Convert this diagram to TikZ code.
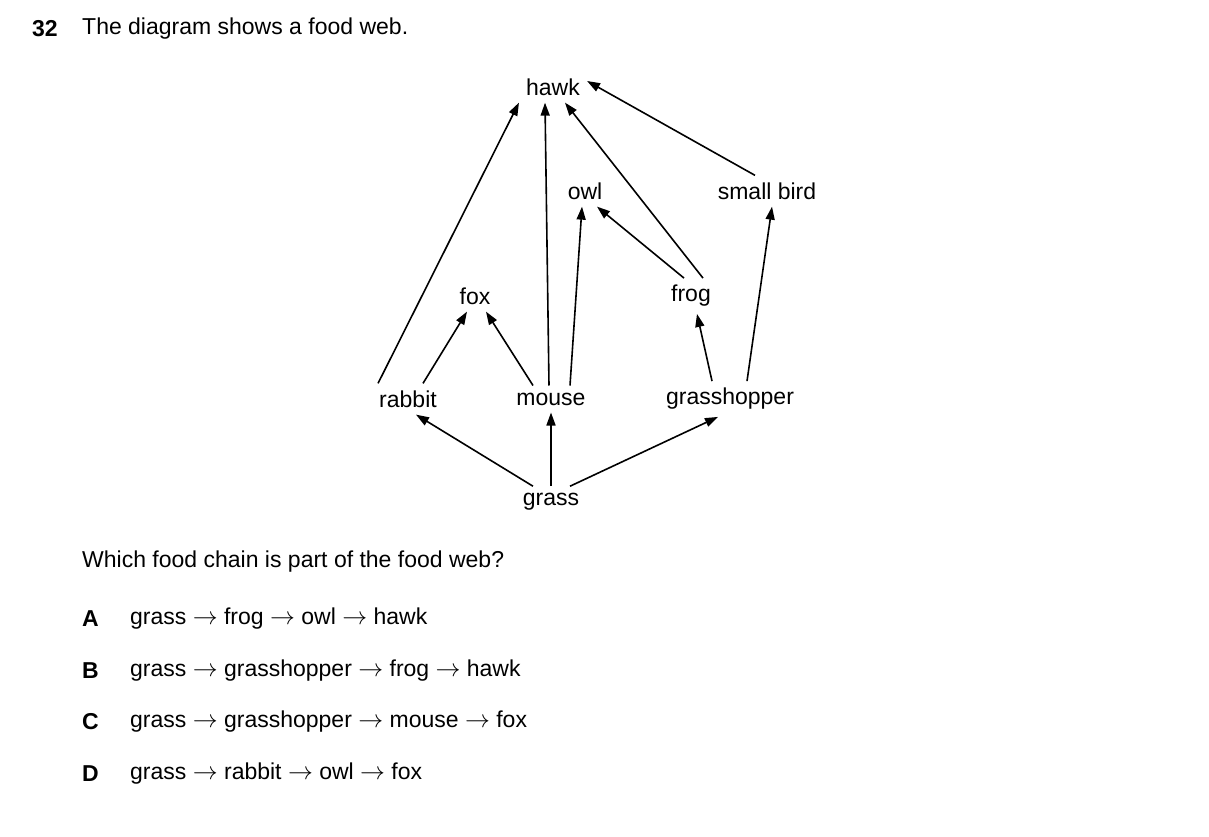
\documentclass[tikz,border=0pt]{standalone}
\usepackage{fontspec}
\setmainfont{Liberation Sans}
\usetikzlibrary{arrows.meta}
\begin{document}
\begin{tikzpicture}[x=1pt,y=-1pt,
  every node/.style={font=\fontsize{23}{28}\selectfont},
  sp/.style={inner sep=7pt},
  ar/.style={line width=1.6pt,-{Triangle[length=13pt,width=9pt]}},
  txt/.style={anchor=west,inner sep=0pt}]
\useasboundingbox (0,0) rectangle (1209,837);
\node[txt,font=\fontsize{23}{28}\selectfont\bfseries] (num) at (32,29) {32};
\node[txt] (title) at (82,29) {The diagram shows a food web.};
\node[sp] (hawk) at (553,87) {hawk};
\node[sp] (owl) at (585,191) {owl};
\node[sp] (bird) at (767,191) {small bird};
\node[sp] (fox) at (475,296) {fox};
\node[sp] (frog) at (691,296) {frog};
\node[sp] (rabbit) at (408,399) {rabbit};
\node[sp] (mouse) at (551,399) {mouse};
\node[sp] (hop) at (730,399) {grasshopper};
\node[sp] (grass) at (551,502) {grass};
\draw[ar] (rabbit.north west) ++(6,0) coordinate (r1) -- (hawk.south west);
\draw[ar] (mouse.north) ++(-2,0) coordinate (m1) -- ([xshift=-8pt]hawk.south);
\draw[ar] (frog.north) ++(12,0) coordinate (f1) -- ([xshift=12pt]hawk.south);
\draw[ar] (bird.north) ++(-12,0) coordinate (b1) -- ([yshift=6pt]hawk.east);
\draw[ar] (mouse.north) ++(19,0) coordinate (m2) -- ([xshift=-3pt]owl.south);
\draw[ar] (frog.north) ++(-7,0) coordinate (f2) -- ([xshift=12pt]owl.south);
\draw[ar] (hop.north) ++(17,0) coordinate (h1) -- ([xshift=5pt]bird.south);
\draw[ar] (rabbit.north) ++(15,0) coordinate (r2) -- ([xshift=-8pt]fox.south);
\draw[ar] (mouse.north) ++(-18,0) coordinate (m3) -- ([xshift=11pt]fox.south);
\draw[ar] (hop.north) ++(-18,0) coordinate (h2) -- ([xshift=6pt]frog.south);
\draw[ar] (grass.north) ++(-18,0) coordinate (g1) -- ([xshift=8pt]rabbit.south);
\draw[ar] (grass.north) -- (mouse.south);
\draw[ar] (grass.north) ++(19,0) coordinate (g3) -- ([xshift=-12pt]hop.south);
\node[txt] (q) at (82,562) {Which food chain is part of the food web?};
\foreach \l/\t/\y in {A/grass $\rightarrow$ frog $\rightarrow$ owl $\rightarrow$ hawk/619,
  B/grass $\rightarrow$ grasshopper $\rightarrow$ frog $\rightarrow$ hawk/671,
  C/grass $\rightarrow$ grasshopper $\rightarrow$ mouse $\rightarrow$ fox/722,
  D/grass $\rightarrow$ rabbit $\rightarrow$ owl $\rightarrow$ fox/774}{
  \node[txt,font=\fontsize{23}{28}\selectfont\bfseries] (L\l) at (82,\y) {\l};
  \node[txt] (T\l) at (130,\y) {\t};
}
\end{tikzpicture}
\end{document}
